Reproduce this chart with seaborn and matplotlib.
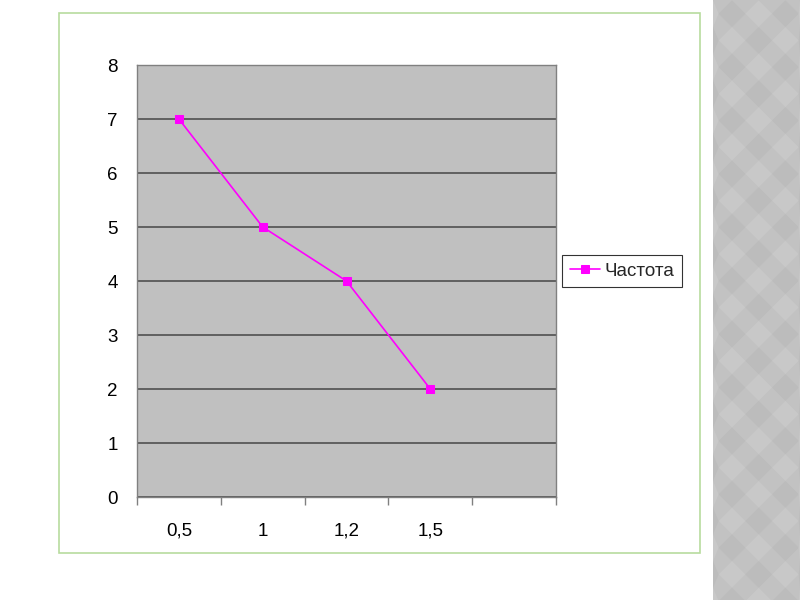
import numpy as np
import pandas as pd
import matplotlib
matplotlib.use("Agg")
import matplotlib.pyplot as plt
import matplotlib.transforms as mtransforms
from matplotlib.patches import Rectangle, Polygon
import seaborn as sns

categories = ["0,5", "1", "1,2", "1,5", ""]
values = [7, 5, 4, 2, np.nan]
series_name = "Частота"
y_ticks = [0, 1, 2, 3, 4, 5, 6, 7, 8]

sns.set_theme(style="white")
plt.rcParams['font.family'] = ['Liberation Sans', 'DejaVu Sans']

fig = plt.figure(figsize=(8, 6), dpi=100)
fig.patch.set_facecolor("white")

# decorative checkered strip on the right
W, H = 800, 600
X0 = 713
fig.add_artist(Rectangle((X0 / W, 0), (W - X0) / W, 1, transform=fig.transFigure,
                         facecolor="#C2C2C2", edgecolor="none", zorder=0))
c = 26.7
d = c / 2
for i in range(-2, 6):
    for j in range(-1, 25):
        cx, cy = 732 + c * i, 13.7 + c * j
        col = "#BCBCBC" if (i + j) % 2 == 0 else "#C8C8C8"
        pts = [(cx, cy - d), (cx + d, cy), (cx, cy + d), (cx - d, cy)]
        pts = [(min(max(X0, px), W) / W, 1 - py / H) for px, py in pts]
        fig.add_artist(Polygon(pts, closed=True, transform=fig.transFigure,
                               facecolor=col, edgecolor="none", zorder=0))

# green frame
fig.add_artist(Rectangle((59 / W, 1 - 553 / H), (700 - 59) / W, (553 - 13) / H,
                         transform=fig.transFigure, facecolor="none",
                         edgecolor="#B8DC9E", lw=1.2, zorder=1))

ax = fig.add_axes([137 / W, 1 - 497 / H, (556 - 137) / W, (497 - 65) / H])
ax.set_facecolor("#C0C0C0")

df = pd.DataFrame({"x": np.arange(len(categories)), "y": values, "s": series_name})
sns.lineplot(data=df, x="x", y="y", hue="s", palette=["#FF00FF"], marker="s",
             markersize=6, markeredgecolor="#FF00FF", linewidth=1.2, ax=ax, legend=True)

fs = 13.5
ax.set_xlim(-0.5, len(categories) - 0.5)
ax.set_ylim(0, 8)
ax.set_yticks(y_ticks)
ax.set_yticklabels([str(t) for t in y_ticks], fontsize=fs, color="black")
ax.yaxis.grid(True, color="#505050", linewidth=1.2)
ax.set_axisbelow(True)

# category boundary tick marks
ax.set_xticks(np.arange(-0.5, len(categories), 1.0))
ax.set_xticklabels([])
ax.tick_params(axis="x", which="major", length=6, width=1, color="#808080", direction="out", bottom=True)
# category labels, baseline-aligned
trans = mtransforms.blended_transform_factory(ax.transData, ax.transAxes) + \
    mtransforms.ScaledTranslation(0, -39 / 100, fig.dpi_scale_trans)
for xi, cat in enumerate(categories):
    ax.text(xi, 0, cat, transform=trans, ha="center", va="baseline",
            fontsize=fs, color="black", clip_on=False)

ax.tick_params(axis="y", length=0, pad=14)
ax.set_xlabel("")
ax.set_ylabel("")
for side in ["top", "right", "left", "bottom"]:
    ax.spines[side].set_visible(True)
    ax.spines[side].set_color("#808080")
    ax.spines[side].set_linewidth(1)

h, l = ax.get_legend_handles_labels()
ax.get_legend().remove()
leg = fig.legend(h, l, loc="center left", bbox_to_anchor=(562 / W, 1 - 271 / H),
                 borderaxespad=0, frameon=True, fontsize=fs, fancybox=False,
                 handlelength=1.65, borderpad=0.4, handletextpad=0.2)
leg.get_frame().set_edgecolor("black")
leg.get_frame().set_linewidth(0.8)
leg.get_frame().set_facecolor("white")

fig.savefig("out.png", dpi=100)
